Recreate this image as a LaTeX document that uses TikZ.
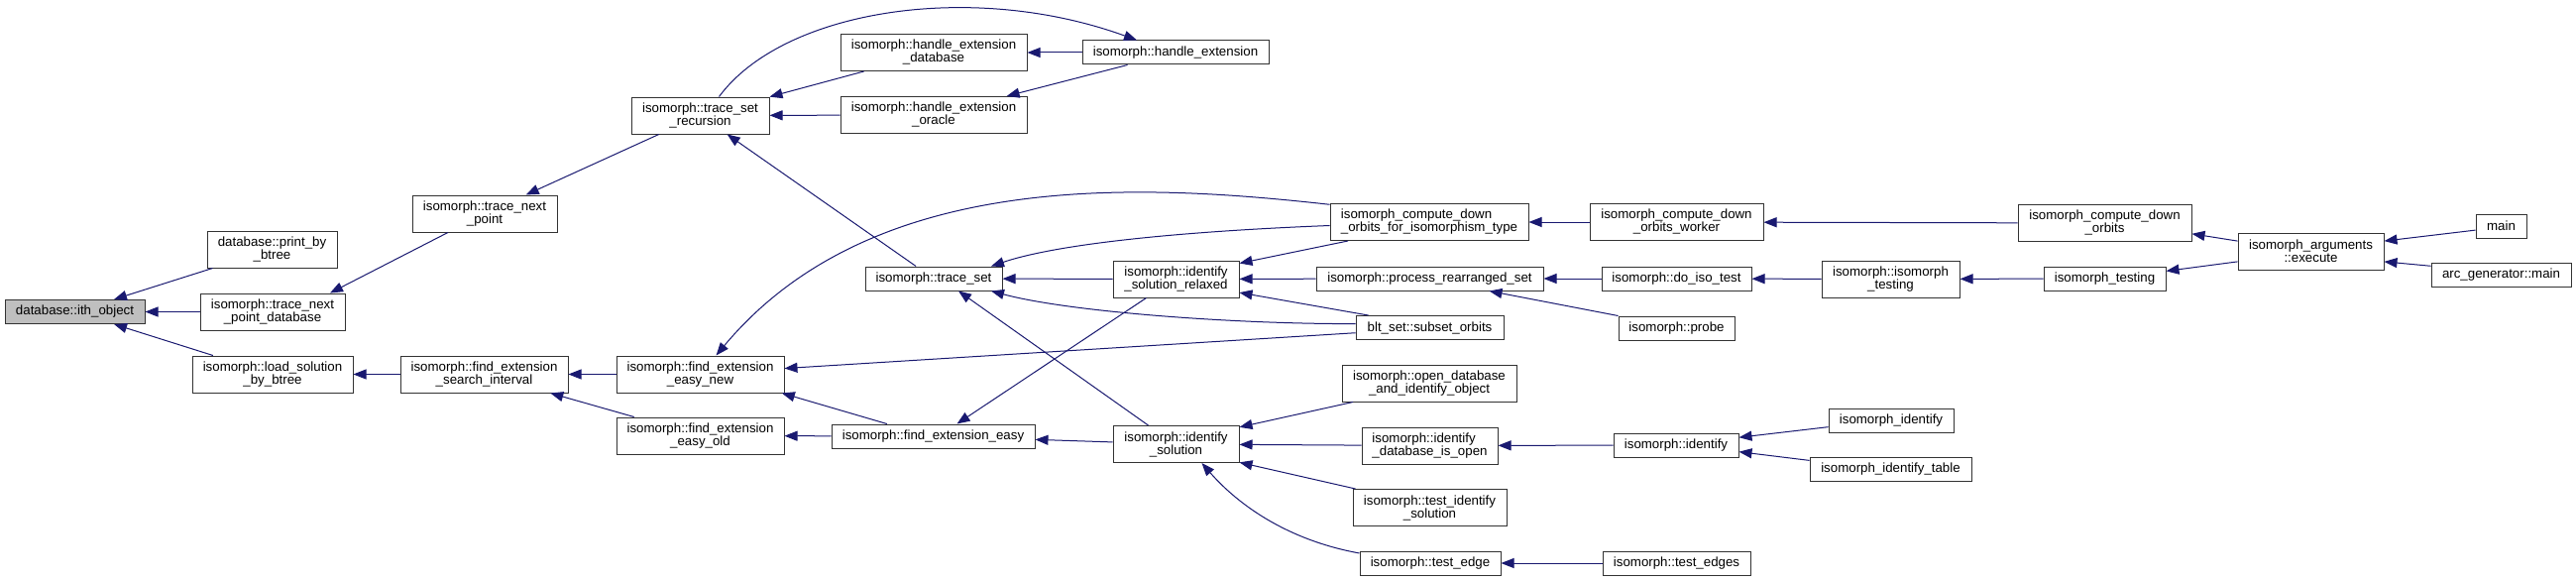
\documentclass[tikz,border=0pt]{standalone}
\usepackage{fontspec}
\setmainfont{Liberation Sans}
\usetikzlibrary{arrows.meta}
\definecolor{edgeblue}{HTML}{191970}

\begin{document}
\begin{tikzpicture}[
			x=1pt, y=-1pt,
			fn/.style={
				rectangle,
				draw=black!80,
				fill=white,
				line width=1pt,
				inner sep=0pt,
				align=center,
				minimum height=24pt,
				font=\fontsize{13.3}{13}\selectfont
			},
			two/.style={
				minimum height=37pt
			},
			call/.style={
				-{Triangle[length=13pt, width=10pt]},
				draw=edgeblue,
				line width=1pt
			}
			]
			
			% page frame
			\path[use as bounding box, fill=white] (0,0) rectangle (2599,586);
			
			% Root function (grey)
			\node[fn, fill=black!25, minimum width=141pt] (ith) at (75.5,314.5) {database::ith\_object};
			
			% Direct callers
			\node[fn, two, minimum width=131pt] (pbb) at (274.5,251.5) {database::print\_by\\\_btree};
			\node[fn, two, minimum width=146pt] (tnpd) at (275,314.5) {isomorph::trace\_next\\\_point\_database};
			\node[fn, two, minimum width=162pt] (lsbb) at (275,377.5) {isomorph::load\_solution\\\_by\_btree};
			
			% Second column
			\node[fn, two, minimum width=146pt] (tnp) at (489,215.5) {isomorph::trace\_next\\\_point};
			\node[fn, two, minimum width=169pt] (fesi) at (488.5,377.5) {isomorph::find\_extension\\\_search\_interval};
			
			% Third column
			\node[fn, two, minimum width=139pt] (tsr) at (706.5,116.5) {isomorph::trace\_set\\\_recursion};
			\node[fn, two, minimum width=169pt] (feen) at (706.5,377.5) {isomorph::find\_extension\\\_easy\_new};
			\node[fn, two, minimum width=169pt] (feeo) at (706.5,439.5) {isomorph::find\_extension\\\_easy\_old};
			
			% Fourth column
			\node[fn, two, minimum width=188pt] (hed) at (942,53) {isomorph::handle\_extension\\\_database};
			\node[fn, two, minimum width=188pt] (heo) at (942,116) {isomorph::handle\_extension\\\_oracle};
			\node[fn, minimum width=138pt] (ts) at (942,281) {isomorph::trace\_set};
			\node[fn, minimum width=205pt] (fee) at (941.5,440) {isomorph::find\_extension\_easy};
			
			% Fifth column
			\node[fn, minimum width=188pt] (he) at (1186,53) {isomorph::handle\_extension};
			\node[fn, two, minimum width=127pt] (isr) at (1186.5,281.5) {isomorph::identify\\\_solution\_relaxed};
			\node[fn, two, minimum width=127pt] (is) at (1186.5,448) {isomorph::identify\\\_solution};
			
			% Sixth column
			\node[fn, two, align=left, minimum width=200pt] (cdofit) at (1442,224) {isomorph\_compute\_down\\\_orbits\_for\_isomorphism\_type};
			\node[fn, minimum width=229pt] (prs) at (1442.5,281) {isomorph::process\_rearranged\_set};
			\node[fn, minimum width=149pt] (bso) at (1442.5,330.5) {blt\_set::subset\_orbits};
			\node[fn, two, minimum width=176pt] (odio) at (1442,386.5) {isomorph::open\_database\\\_and\_identify\_object};
			\node[fn, two, align=left, minimum width=137pt] (idio) at (1442.5,449.5) {isomorph::identify\\\_database\_is\_open};
			\node[fn, two, minimum width=155pt] (tis) at (1442.5,512) {isomorph::test\_identify\\\_solution};
			\node[fn, minimum width=142pt] (te) at (1443,568) {isomorph::test\_edge};
			
			% Seventh column
			\node[fn, two, minimum width=175pt] (cdow) at (1691.5,224) {isomorph\_compute\_down\\\_orbits\_worker};
			\node[fn, minimum width=151pt] (dit) at (1691.5,281) {isomorph::do\_iso\_test};
			\node[fn, minimum width=117pt] (probe) at (1691.5,331) {isomorph::probe};
			\node[fn, minimum width=126pt] (iid) at (1691,449) {isomorph::identify};
			\node[fn, minimum width=149pt] (tes) at (1691.5,568) {isomorph::test\_edges};
			
			% Eighth column
			\node[fn, two, minimum width=139pt] (iit) at (1907.5,281.5) {isomorph::isomorph\\\_testing};
			\node[fn, minimum width=126pt] (iident) at (1908,424) {isomorph\_identify};
			\node[fn, minimum width=163pt] (iidt) at (1907.5,473) {isomorph\_identify\_table};
			
			% Drivers
			\node[fn, two, minimum width=175pt] (cdo) at (2123.5,225) {isomorph\_compute\_down\\\_orbits};
			\node[fn, minimum width=123pt] (itest) at (2123.5,281) {isomorph\_testing};
			\node[fn, two, minimum width=147pt] (exe) at (2331.5,253.5) {isomorph\_arguments\\::execute};
			\node[fn, minimum width=51pt] (main) at (2523.5,228) {main};
			\node[fn, minimum width=141pt] (agm) at (2523.5,277) {arc\_generator::main};
			
			% Calls into the root
			\draw[call] (pbb) -- (ith);
			\draw[call] (tnpd) -- (ith);
			\draw[call] (lsbb) -- (ith);
			
			% trace branch
			\draw[call] (tnp) -- ([xshift=58pt]tnpd.north);
			\draw[call] (tsr) -- (tnp);
			\draw[call] (hed) -- (tsr);
			\draw[call] (heo) -- (tsr);
			\draw[call] (he) -- (hed);
			\draw[call] (he) -- (heo);
			\draw[call] (tsr.45) .. controls (790,10) and (980,-20) .. ([xshift=-39pt]he.north);
			\draw[call] (ts) -- (tsr);
			
			% find_extension branch
			\draw[call] (fesi) -- (lsbb);
			\draw[call] (feen) -- (fesi);
			\draw[call] (feeo) -- (fesi);
			\draw[call] (cdofit.170) .. controls (1150,185) and (880,170) .. ([xshift=16pt]feen.north);
			\draw[call] (bso.184) -- (feen.4);
			\draw[call] (fee.165) -- (feen.-13);
			\draw[call] (fee) -- (feeo);
			\draw[call] ([xshift=-30pt]isr.south) -- ([xshift=24pt]fee.north);
			\draw[call] (is) -- (fee);
			
			% Calls into trace_set
			\draw[call] (isr) -- (ts);
			\draw[call] (cdofit.182) .. controls (1200,233) and (1070,245) .. ([xshift=58pt]ts.north);
			\draw[call] (bso.177) .. controls (1250,327) and (1080,315) .. ([xshift=58pt]ts.south);
			\draw[call] ([xshift=-28pt]is.north) -- ([xshift=25pt]ts.south);
			
			% Calls into identify_solution(_relaxed)
			\draw[call] ([xshift=-82pt]cdofit.south) -- (isr.14);
			\draw[call] (prs) -- (isr);
			\draw[call] ([xshift=-62pt]bso.north) -- (isr.-12);
			\draw[call] ([xshift=-77pt]odio.south) -- (is.15);
			\draw[call] (idio) -- (is);
			\draw[call] ([xshift=-75pt]tis.north) -- (is.-16);
			\draw[call] (te.172) .. controls (1300,545) and (1250,510) .. ([xshift=26pt]is.south);
			
			% Right-hand callers
			\draw[call] (cdow) -- (cdofit);
			\draw[call] (cdo) -- (cdow);
			\draw[call] (dit) -- (prs);
			\draw[call] (probe.north west) -- ([xshift=60pt]prs.south);
			\draw[call] (iit) -- (dit);
			\draw[call] (itest) -- (iit);
			\draw[call] (exe.172) -- (cdo.-7);
			\draw[call] (exe.188) -- (itest.7);
			\draw[call] (main.189) -- (exe.8);
			\draw[call] (agm.173) -- (exe.-8);
			\draw[call] (iid) -- (idio);
			\draw[call] (iident.186) -- (iid.7);
			\draw[call] (iidt.174) -- (iid.-6);
			\draw[call] (tes) -- (te);
			
		\end{tikzpicture}
\end{document}
